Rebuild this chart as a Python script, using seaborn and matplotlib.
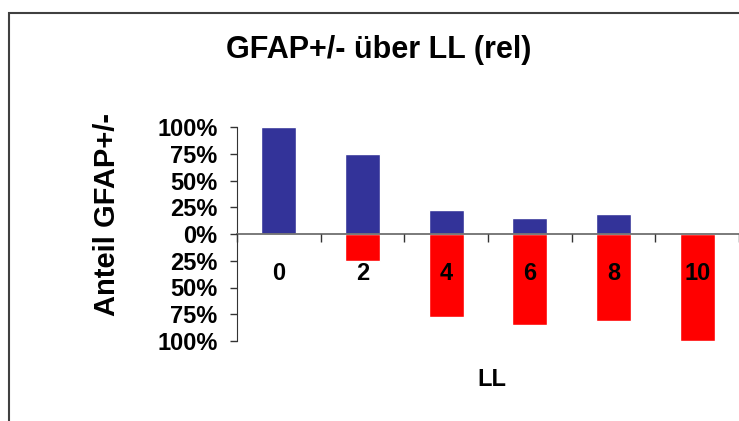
import numpy as np
import pandas as pd
import matplotlib
matplotlib.use("Agg")
import matplotlib.pyplot as plt
from matplotlib.patches import Rectangle
import seaborn as sns

# data (percent of cells)
ll = ["0", "2", "4", "6", "8", "10"]
gfap_pos = [100, 75, 22, 15, 19, 0]
gfap_neg = [0, 25, 78, 85, 81, 100]
yticks = [100, 75, 50, 25, 0, -25, -50, -75, -100]

df = pd.DataFrame({
    "LL": ll * 2,
    "val": gfap_pos + [-v for v in gfap_neg],
    "sign": ["pos"] * len(ll) + ["neg"] * len(ll),
})

sns.set_style("white")
plt.rcParams["font.family"] = ["Liberation Sans", "DejaVu Sans"]
plt.rcParams["font.weight"] = "bold"
plt.rcParams["text.color"] = "black"
plt.rcParams["xtick.color"] = "black"
plt.rcParams["ytick.color"] = "black"
plt.rcParams["axes.labelcolor"] = "black"

fig = plt.figure(figsize=(7.39, 4.21), dpi=100)
ax = fig.add_axes([237 / 739, 1 - 341 / 421, 1 - 237 / 739, 214 / 421])

sns.barplot(data=df, x="LL", y="val", hue="sign", dodge=False,
            palette={"pos": "#333399", "neg": "#FF0000"}, width=0.42,
            saturation=1, legend=False, ax=ax)
ax.set_axisbelow(False)

ax.set_ylim(-100, 100)
ax.set_xlim(-0.5, 5.5)
ax.set_yticks(yticks)
ax.set_yticklabels([f"{abs(v)}%" for v in yticks], fontsize=17, fontweight="bold")
ax.tick_params(axis="y", direction="out", length=5, width=1, color="#333333", pad=9, left=True)

# category boundaries as ticks on the zero line, labels at centers
ax.spines["bottom"].set_position(("data", 0))
ax.spines["bottom"].set_color("#707070")
ax.spines["bottom"].set_linewidth(1.3)
ax.set_xticks(np.arange(-0.5, 6.0, 1.0))
ax.set_xticklabels([])
ax.tick_params(axis="x", which="major", direction="out", length=6, width=1, color="#333333", bottom=True)
ax.set_xticks(np.arange(len(ll)), minor=True)
ax.set_xticklabels(ll, minor=True, fontsize=17, fontweight="bold")
ax.tick_params(axis="x", which="minor", length=0, pad=20)

for s in ["top", "right"]:
    ax.spines[s].set_visible(False)
ax.spines["left"].set_color("#333333")
ax.set_xlabel("")
ax.set_ylabel("Anteil GFAP+/-", fontsize=21, fontweight="bold")
ax.yaxis.set_label_coords(-0.232, 0.59)

fig.text(379 / 739, 1 - 50 / 421, "GFAP+/- über LL (rel)", ha="center", va="center",
         fontsize=22, fontweight="bold")
fig.text(492 / 739, 1 - 380 / 421, "LL", ha="center", va="center",
         fontsize=17, fontweight="bold")

# chart frame (cut off at right and bottom)
fig.patches.append(Rectangle((9 / 739, -0.2), 1.5, 1.2 - 13 / 421, transform=fig.transFigure,
                             fill=False, edgecolor="#404040", linewidth=1.5))

fig.savefig("out.png", dpi=100)
